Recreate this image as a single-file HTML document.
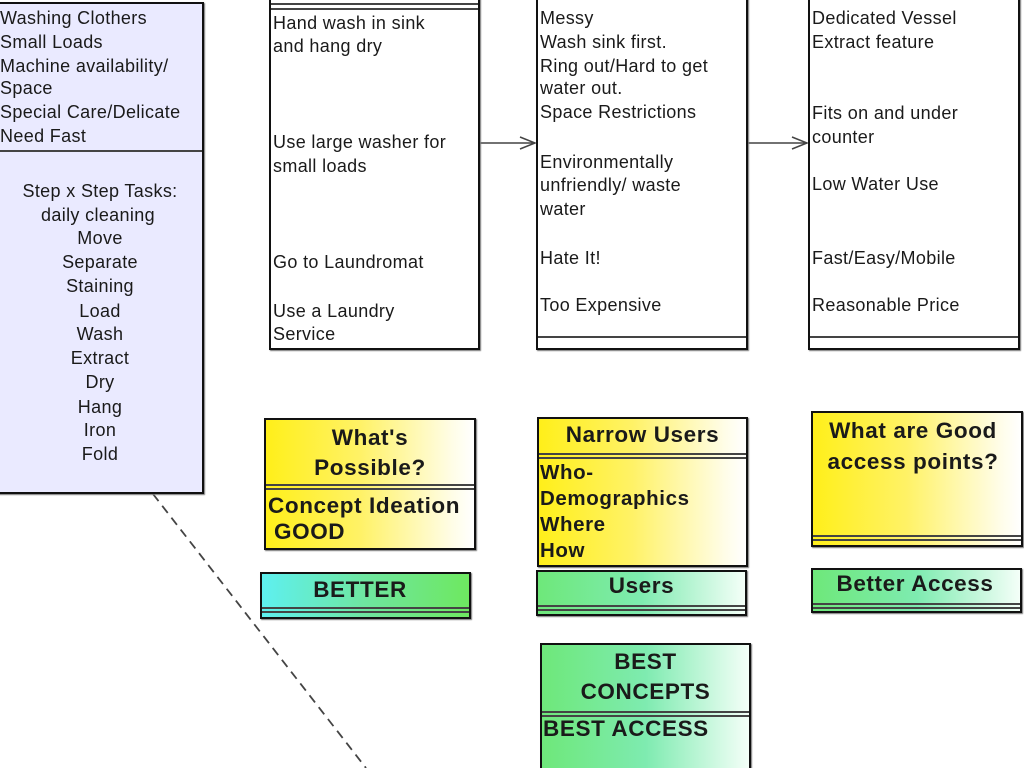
<!DOCTYPE html>
<html style="overflow:hidden;height:768px"><head><meta charset="utf-8"><style>
html,body{overflow:hidden}
body{margin:0;width:1024px;height:768px;position:relative;overflow:hidden;background:#fff;font-family:"Liberation Sans",sans-serif;color:#1a1a1a}
.b{position:absolute;box-sizing:border-box;border:2px solid #111;box-shadow:1px 1px 1px #777}
.h{position:absolute;left:0;right:0;height:5px;border-top:2px solid #444;border-bottom:2px solid #444;box-sizing:border-box}
.t{position:absolute;font-size:18px;letter-spacing:0.35px;line-height:20px;white-space:nowrap}
.c{text-align:center}
.B{font-weight:bold;font-size:22.5px;letter-spacing:0.6px;line-height:26px;white-space:nowrap;position:absolute}
.y{background:linear-gradient(90deg,#ffef1a 0%,#fff266 45%,#fffde8 90%,#fff 100%)}
.g{background:linear-gradient(90deg,#6ee87a 0%,#7eebb0 50%,#f4fff8 100%)}
</style></head><body>
<svg width="1024" height="768" style="position:absolute;left:0;top:0">
<line x1="153" y1="494" x2="366" y2="768" stroke="#444" stroke-width="1.8" stroke-dasharray="9,6"/>
<line x1="479" y1="143" x2="535" y2="143" stroke="#444" stroke-width="1.5"/>
<polyline points="520,137 535,143 520,149" fill="none" stroke="#444" stroke-width="1.5"/>
<line x1="747" y1="143" x2="807" y2="143" stroke="#444" stroke-width="1.5"/>
<polyline points="792,137 807,143 792,149" fill="none" stroke="#444" stroke-width="1.5"/>
</svg>

<div class="b" style="left:-4px;top:2px;width:208px;height:492px;background:#eaeaff">
 <div class="h" style="top:146px;height:3px;border-bottom:none"></div>
</div>
<div class="t" style="left:0;top:8px">Washing Clothers</div>
<div class="t" style="left:0;top:32px">Small Loads</div>
<div class="t" style="left:0;top:56px">Machine availability/</div>
<div class="t" style="left:0;top:78px">Space</div>
<div class="t" style="left:0;top:102px">Special Care/Delicate</div>
<div class="t" style="left:0;top:126px">Need Fast</div>
<div class="t c" style="left:0;width:200px;top:181px">Step x Step Tasks:</div>
<div class="t c" style="left:0;width:196px;top:205px">daily cleaning</div>
<div class="t c" style="left:0;width:200px;top:228px">Move</div>
<div class="t c" style="left:0;width:200px;top:252px">Separate</div>
<div class="t c" style="left:0;width:200px;top:276px">Staining</div>
<div class="t c" style="left:0;width:200px;top:301px">Load</div>
<div class="t c" style="left:0;width:200px;top:324px">Wash</div>
<div class="t c" style="left:0;width:200px;top:348px">Extract</div>
<div class="t c" style="left:0;width:200px;top:372px">Dry</div>
<div class="t c" style="left:0;width:200px;top:397px">Hang</div>
<div class="t c" style="left:0;width:200px;top:420px">Iron</div>
<div class="t c" style="left:0;width:200px;top:444px">Fold</div>

<div class="b" style="left:269px;top:-4px;width:211px;height:354px;background:#fff">
 <div class="h" style="top:5px;height:7px"></div>
</div>
<div class="t" style="left:273px;top:13px">Hand wash in sink</div>
<div class="t" style="left:273px;top:36px">and hang dry</div>
<div class="t" style="left:273px;top:132px">Use large washer for</div>
<div class="t" style="left:273px;top:156px">small loads</div>
<div class="t" style="left:273px;top:252px">Go to Laundromat</div>
<div class="t" style="left:273px;top:301px">Use a Laundry</div>
<div class="t" style="left:273px;top:324px">Service</div>

<div class="b" style="left:536px;top:-4px;width:212px;height:354px;background:#fff">
 <div class="h" style="top:338px;height:7px;border-bottom:none"></div>
</div>
<div class="t" style="left:540px;top:8px">Messy</div>
<div class="t" style="left:540px;top:32px">Wash sink first.</div>
<div class="t" style="left:540px;top:56px">Ring out/Hard to get</div>
<div class="t" style="left:540px;top:78px">water out.</div>
<div class="t" style="left:540px;top:102px">Space Restrictions</div>
<div class="t" style="left:540px;top:152px">Environmentally</div>
<div class="t" style="left:540px;top:175px">unfriendly/ waste</div>
<div class="t" style="left:540px;top:199px">water</div>
<div class="t" style="left:540px;top:248px">Hate It!</div>
<div class="t" style="left:540px;top:295px">Too Expensive</div>

<div class="b" style="left:808px;top:-4px;width:212px;height:354px;background:#fff">
 <div class="h" style="top:338px;height:7px;border-bottom:none"></div>
</div>
<div class="t" style="left:812px;top:8px">Dedicated Vessel</div>
<div class="t" style="left:812px;top:32px">Extract feature</div>
<div class="t" style="left:812px;top:103px">Fits on and under</div>
<div class="t" style="left:812px;top:127px">counter</div>
<div class="t" style="left:812px;top:174px">Low Water Use</div>
<div class="t" style="left:812px;top:248px">Fast/Easy/Mobile</div>
<div class="t" style="left:812px;top:295px">Reasonable Price</div>

<div class="b y" style="left:264px;top:418px;width:212px;height:132px">
 <div class="h" style="top:64px;height:6px"></div>
</div>
<div class="B" style="left:264px;width:212px;text-align:center;top:423px;line-height:30px">What's<br>Possible?</div>
<div class="B" style="left:268px;top:493px">Concept Ideation</div>
<div class="B" style="left:274px;top:519px">GOOD</div>

<div class="b y" style="left:537px;top:417px;width:211px;height:150px">
 <div class="h" style="top:34px;height:6px"></div>
</div>
<div class="B" style="left:537px;width:211px;text-align:center;top:422px">Narrow Users</div>
<div class="B" style="left:540px;top:460px;font-size:20.5px;line-height:26px">Who-<br>Demographics<br>Where<br>How</div>

<div class="b y" style="left:811px;top:411px;width:212px;height:136px">
 <div class="h" style="top:122px;height:6px"></div>
</div>
<div class="B" style="left:811px;width:204px;text-align:center;top:415px;line-height:31px">What are Good<br>access points?</div>

<div class="b" style="left:260px;top:572px;width:211px;height:47px;background:linear-gradient(90deg,#5ef0f0,#6ee6a0 50%,#6ee860)">
 <div class="h" style="top:33px;height:6px"></div>
</div>
<div class="B" style="left:260px;width:200px;text-align:center;top:577px">BETTER</div>

<div class="b g" style="left:536px;top:570px;width:211px;height:46px">
 <div class="h" style="top:33px;height:6px"></div>
</div>
<div class="B" style="left:536px;width:211px;text-align:center;top:573px">Users</div>

<div class="b g" style="left:811px;top:568px;width:211px;height:45px">
 <div class="h" style="top:33px;height:6px"></div>
</div>
<div class="B" style="left:811px;width:208px;text-align:center;top:571px">Better Access</div>

<div class="b g" style="left:540px;top:643px;width:211px;height:150px">
 <div class="h" style="top:66px;height:6px"></div>
</div>
<div class="B" style="left:540px;width:211px;text-align:center;top:647px;line-height:30px">BEST<br>CONCEPTS</div>
<div class="B" style="left:543px;top:716px">BEST ACCESS</div>
</body></html>
